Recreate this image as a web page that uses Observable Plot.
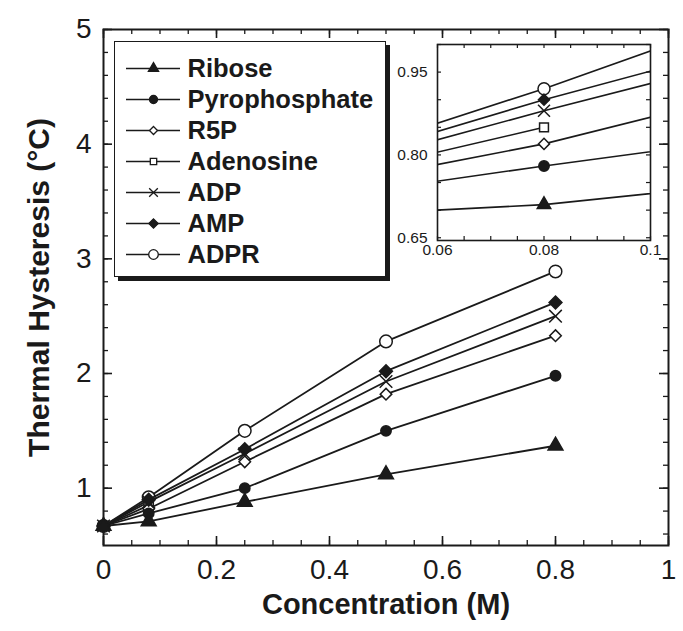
<!DOCTYPE html>
<html>
<head>
<meta charset="utf-8">
<script src="https://cdn.jsdelivr.net/npm/d3@7"></script>
<script src="https://cdn.jsdelivr.net/npm/@observablehq/plot@0.6"></script>
<style>
  html, body { margin: 0; padding: 0; background: #ffffff; }
  #wrap { position: relative; width: 683px; height: 631px; overflow: hidden; }
  #wrap svg { position: absolute; }
</style>
</head>
<body>
<div id="wrap"></div>
<script>
// ---------- data ----------
const seriesNames = ["Ribose", "Pyrophosphate", "R5P", "Adenosine", "ADP", "AMP", "ADPR"];
const concentration = [0, 0.08, 0.25, 0.5, 0.8];
const riboseTH        = [0.67, 0.71, 0.88, 1.12, 1.37];
const pyrophosphateTH = [0.67, 0.78, 1.00, 1.50, 1.98];
const r5pTH           = [0.67, 0.82, 1.23, 1.82, 2.33];
const adenosineTH     = [0.67, 0.85];
const adpTH           = [0.67, 0.88, 1.30, 1.93, 2.50];
const ampTH           = [0.67, 0.90, 1.34, 2.02, 2.62];
const adprTH          = [0.67, 0.92, 1.50, 2.28, 2.89];

const xTickLabels = [0, 0.2, 0.4, 0.6, 0.8, 1];
const yTickLabels = [1, 2, 3, 4, 5];
const insetXTickLabels = [0.06, 0.08, 0.1];
const insetYTickLabels = [0.65, 0.80, 0.95];
const xTitle = "Concentration (M)";
const yTitle = "Thermal Hysteresis (°C)";

// ---------- styling ----------
const INK = "#1a1a1a";
const FONT = "'Liberation Sans', Arial, Helvetica, sans-serif";
const symbolOf = ["triangle", "circle", "diamond2", "square", "times", "diamond2", "circle"];
const fillOf   = [INK, INK, "white", "white", "none", INK, "white"];
const rMain    = [5.5, 5.2, 5.2, 5.2, 5.8, 5.8, 6.3];
const rInset   = [5, 5.2, 5, 5, 5.5, 5, 6];
const rLegend  = [3.8, 4, 3.6, 3.6, 4, 4.2, 4.8];
const drawOrder = [6, 3, 2, 4, 5, 1, 0]; // open markers underneath, filled ones on top

const valuesBySeries = [riboseTH, pyrophosphateTH, r5pTH, adenosineTH, adpTH, ampTH, adprTH];
const rows = seriesNames.flatMap((s, i) =>
  valuesBySeries[i].map((v, j) => ({series: s, c: concentration[j], th: v})));

function dotsFor(radii, extra = {}) {
  return drawOrder.map(i => Plot.dot(rows.filter(d => d.series === seriesNames[i]), {
    x: "c", y: "th", symbol: symbolOf[i], r: radii[i],
    fill: fillOf[i], stroke: INK, strokeWidth: 1.5, ...extra
  }));
}

const wrap = document.getElementById("wrap");

// ---------- main chart ----------
const W = 683, H = 631, mL = 103, mR = 15, mT = 29, mB = 86;
const fw = W - mL - mR, fh = H - mT - mB;
const xMinor = d3.range(0, 1.0001, 0.05);
const yMinor = d3.range(0.6, 5.0001, 0.2);

const main = Plot.plot({
  width: W, height: H,
  marginLeft: mL, marginRight: mR, marginTop: mT, marginBottom: mB,
  x: {domain: [0, 1], label: null},
  y: {domain: [0.5, 5], label: null},
  style: {fontFamily: FONT, color: INK, background: "transparent", overflow: "visible"},
  marks: [
    Plot.tickX(xMinor, {x: d => d, insetTop: fh - 5, stroke: INK, strokeWidth: 1.3}),
    Plot.tickX(xMinor, {x: d => d, insetBottom: fh - 5, stroke: INK, strokeWidth: 1.3}),
    Plot.tickX(xTickLabels, {x: d => d, insetTop: fh - 9, stroke: INK, strokeWidth: 1.6}),
    Plot.tickX(xTickLabels, {x: d => d, insetBottom: fh - 9, stroke: INK, strokeWidth: 1.6}),
    Plot.tickY(yMinor, {y: d => d, insetRight: fw - 5, stroke: INK, strokeWidth: 1.3}),
    Plot.tickY(yMinor, {y: d => d, insetLeft: fw - 5, stroke: INK, strokeWidth: 1.3}),
    Plot.tickY(yTickLabels, {y: d => d, insetRight: fw - 9, stroke: INK, strokeWidth: 1.6}),
    Plot.tickY(yTickLabels, {y: d => d, insetLeft: fw - 9, stroke: INK, strokeWidth: 1.6}),
    Plot.frame({stroke: INK, strokeWidth: 2}),
    Plot.axisX(xTickLabels, {tickSize: 0, tickPadding: 14, fontSize: 28, label: null, tickFormat: d => String(d)}),
    Plot.axisY(yTickLabels, {tickSize: 0, tickPadding: 12, fontSize: 28, label: null, tickFormat: d => String(d)}),
    Plot.line(rows, {x: "c", y: "th", z: "series", stroke: INK, strokeWidth: 1.8}),
    ...dotsFor(rMain),
    Plot.text([xTitle], {text: d => d, frameAnchor: "bottom", dy: 68, fontSize: 29, fontWeight: "bold", fill: INK}),
    Plot.text([yTitle], {text: d => d, frameAnchor: "left", textAnchor: "middle", lineAnchor: "middle",
      dx: -64, rotate: -90, fontSize: 30, fontWeight: "bold", fill: INK})
  ]
});
main.style.left = "0px"; main.style.top = "0px";
wrap.appendChild(main);

// ---------- inset ----------
const iW = 213, iH = 196, imL = 52, imR = 8, imT = 6, imB = 26;
const insetXMinor = d3.range(0.06, 0.1001, 0.005);
const insetYMinor = d3.range(0.65, 1.0001, 0.05);
const inset = Plot.plot({
  width: imL + iW + imR, height: imT + iH + imB,
  marginLeft: imL, marginRight: imR, marginTop: imT, marginBottom: imB,
  x: {domain: [0.06, 0.1], label: null},
  y: {domain: [0.645, 1.0], label: null},
  style: {fontFamily: FONT, color: INK, background: "transparent", overflow: "visible"},
  marks: [
    Plot.tickX(insetXMinor, {x: d => d, insetTop: iH - 4, stroke: INK, strokeWidth: 1.2}),
    Plot.tickX(insetXMinor, {x: d => d, insetBottom: iH - 4, stroke: INK, strokeWidth: 1.2}),
    Plot.tickY(insetYMinor, {y: d => d, insetRight: iW - 4, stroke: INK, strokeWidth: 1.2}),
    Plot.tickY(insetYMinor, {y: d => d, insetLeft: iW - 4, stroke: INK, strokeWidth: 1.2}),
    Plot.frame({stroke: INK, strokeWidth: 1.6}),
    Plot.axisX(insetXTickLabels, {tickSize: 0, tickPadding: 3, fontSize: 15.5, label: null, tickFormat: d => String(d)}),
    Plot.axisY(insetYTickLabels, {tickSize: 0, tickPadding: 10, fontSize: 15.5, label: null, tickFormat: d => d.toFixed(2)}),
    Plot.line(rows, {x: "c", y: "th", z: "series", stroke: INK, strokeWidth: 1.6, clip: true}),
    ...dotsFor(rInset, {clip: true})
  ]
});
inset.style.left = (437 - imL) + "px"; inset.style.top = (44 - imT) + "px";
wrap.appendChild(inset);

// ---------- legend ----------
const legend = Plot.plot({
  width: 270, height: 234, margin: 0,
  x: {domain: [0, 1], range: [11, 65], axis: null},
  y: {type: "point", domain: seriesNames, range: [25, 212], padding: 0, axis: null},
  style: {fontFamily: FONT, color: INK, background: "white", border: "1.5px solid " + INK,
          boxShadow: "4px 4px 0 " + INK, overflow: "visible"},
  marks: [
    Plot.ruleY(seriesNames, {y: d => d, x1: 0, x2: 1, stroke: INK, strokeWidth: 1.7}),
    ...seriesNames.map((s, i) => Plot.dot([s], {
      x: 0.5, y: d => d, symbol: symbolOf[i], r: rLegend[i],
      fill: fillOf[i], stroke: INK, strokeWidth: 1.3})),
    Plot.text(seriesNames, {x: 1, y: d => d, text: d => d, dx: 7, textAnchor: "start",
      fontSize: 25.5, fontWeight: "bold", fill: INK})
  ]
});
legend.style.left = "114px"; legend.style.top = "41px";
wrap.appendChild(legend);
</script>
</body>
</html>
